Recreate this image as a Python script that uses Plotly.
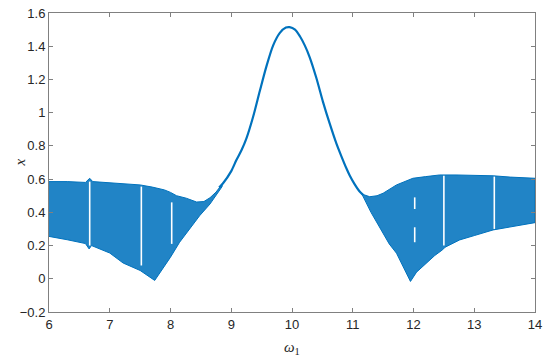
import plotly.graph_objects as go

BLUE = "rgb(0,114,189)"

# Left quasi-periodic band: envelopes (omega_1, x)
left_w_up = [6.0, 6.3, 6.6, 6.67, 6.72, 7.0, 7.3, 7.5, 7.7, 7.9, 8.0, 8.1, 8.26, 8.43, 8.55, 8.65, 8.75, 8.85]
left_up = [0.585, 0.585, 0.58, 0.605, 0.585, 0.578, 0.57, 0.565, 0.552, 0.535, 0.52, 0.50, 0.485, 0.462, 0.465, 0.488, 0.522, 0.57]
left_w_lo = [6.0, 6.3, 6.6, 6.66, 6.7, 7.0, 7.22, 7.5, 7.74, 7.85, 8.0, 8.15, 8.32, 8.48, 8.65, 8.75, 8.85]
left_lo = [0.255, 0.235, 0.212, 0.18, 0.2, 0.155, 0.095, 0.05, -0.01, 0.05, 0.13, 0.22, 0.3, 0.38, 0.45, 0.5, 0.555]

# Periodic branch
curve_w = [8.8, 8.865, 9.0, 9.085, 9.17, 9.25, 9.36, 9.47, 9.58, 9.69, 9.80, 9.90, 9.96, 10.05, 10.13,
           10.21, 10.29, 10.40, 10.51, 10.62, 10.73, 10.81, 10.895, 10.95, 11.03, 11.11, 11.17]
curve_x = [0.55, 0.575, 0.648, 0.715, 0.775, 0.845, 0.975, 1.13, 1.28, 1.405, 1.48, 1.512, 1.515, 1.50, 1.46,
           1.405, 1.335, 1.21, 1.065, 0.935, 0.815, 0.74, 0.665, 0.622, 0.57, 0.527, 0.505]

# Right quasi-periodic band: envelopes
right_w_up = [11.15, 11.28, 11.4, 11.5, 11.72, 11.99, 12.2, 12.43, 12.7, 13.0, 13.31, 13.6, 14.0]
right_up = [0.51, 0.494, 0.50, 0.515, 0.565, 0.605, 0.615, 0.625, 0.625, 0.622, 0.62, 0.612, 0.605]
right_w_lo = [11.15, 11.3, 11.44, 11.6, 11.72, 11.85, 11.95, 12.05, 12.21, 12.35, 12.48, 12.52, 12.76, 13.0, 13.31, 13.6, 14.0]
right_lo = [0.51, 0.40, 0.314, 0.21, 0.154, 0.06, -0.016, 0.04, 0.094, 0.14, 0.175, 0.19, 0.234, 0.26, 0.294, 0.315, 0.338]

# Narrow white windows inside the bands
gap_w = [6.67, 7.52, 8.02, 12.02, 12.02, 12.5, 13.33]
gap_lo = [0.2, 0.08, 0.21, 0.42, 0.22, 0.2, 0.3]
gap_hi = [0.585, 0.555, 0.46, 0.49, 0.31, 0.62, 0.615]

x_ticks = [6, 7, 8, 9, 10, 11, 12, 13, 14]
y_ticks = [-0.2, 0, 0.2, 0.4, 0.6, 0.8, 1.0, 1.2, 1.4, 1.6]
y_tick_text = ["\u22120.2", "0", "0.2", "0.4", "0.6", "0.8", "1", "1.2", "1.4", "1.6"]

fig = go.Figure()

def band(wu, yu, wl, yl):
    xs = list(wu) + list(reversed(wl))
    ys = list(yu) + list(reversed(yl))
    fig.add_trace(go.Scatter(x=xs, y=ys, mode="lines", fill="toself",
                             fillcolor="rgba(0,114,189,0.87)",
                             line=dict(color=BLUE, width=1), hoverinfo="skip",
                             showlegend=False))

band(left_w_up, left_up, left_w_lo, left_lo)
band(right_w_up, right_up, right_w_lo, right_lo)

fig.add_trace(go.Scatter(x=curve_w, y=curve_x, mode="lines",
                         line=dict(color=BLUE, width=2.2, shape="spline", smoothing=0.8),
                         showlegend=False))

gx, gy = [], []
for w, lo, hi in zip(gap_w, gap_lo, gap_hi):
    gx += [w, w, None]
    gy += [lo, hi, None]
fig.add_trace(go.Scatter(x=gx, y=gy, mode="lines", line=dict(color="white", width=1.6),
                         showlegend=False, hoverinfo="skip"))

axis_common = dict(showline=True, linecolor="#808080", linewidth=1, mirror="ticks",
                   ticks="inside", ticklen=4, tickcolor="#808080", showgrid=False,
                   zeroline=False, automargin=False,
                   tickfont=dict(family="Liberation Sans, Arial", size=13, color="#262626"))

fig.update_xaxes(range=[6, 14], tickvals=x_ticks, ticktext=[str(t) for t in x_ticks], **axis_common)
fig.update_yaxes(range=[-0.2, 1.6], tickvals=y_ticks, ticktext=y_tick_text, **axis_common)

fig.update_layout(
    width=550, height=362, autosize=False,
    margin=dict(l=49, r=15, t=13, b=50, pad=0),
    paper_bgcolor="white", plot_bgcolor="white",
    annotations=[
        dict(text="<i>\u03c9</i><sub>1</sub>", xref="paper", yref="paper", x=0.5, y=0,
             yshift=-36, showarrow=False, yanchor="middle",
             font=dict(family="Liberation Serif, Times New Roman", size=15, color="#262626")),
        dict(text="<i>x</i>", xref="paper", yref="paper", x=0, y=0.5, xshift=-40,
             showarrow=False, textangle=-90,
             font=dict(family="Liberation Serif, Times New Roman", size=15, color="#262626")),
    ],
)

fig.write_html("out.html", config={"responsive": False, "displayModeBar": False},
               post_script="document.body.style.margin='0';document.body.style.overflow='hidden';")
